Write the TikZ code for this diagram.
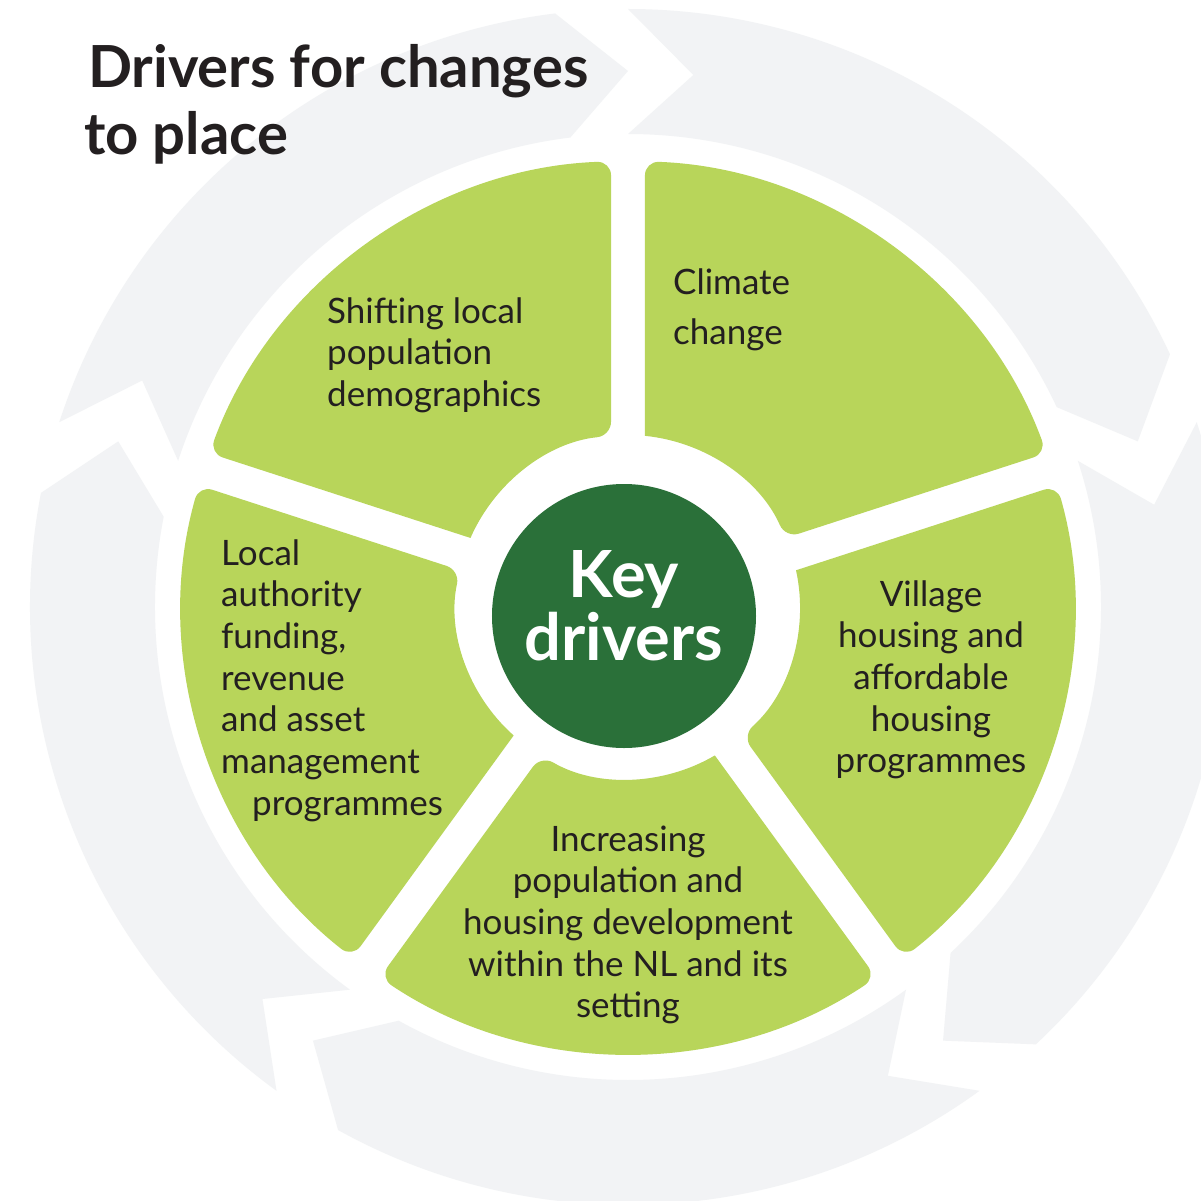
\documentclass[tikz,border=0pt]{standalone}
\usepackage{fontspec}
\setmainfont{Lato}
\usepackage{tikz}
\usetikzlibrary{positioning}
\definecolor{ringGrey}{HTML}{F2F3F5}
\definecolor{leafGreen}{HTML}{B8D55A}
\definecolor{deepGreen}{HTML}{2A7039}
\definecolor{inkBlack}{HTML}{231F20}

\begin{document}
\begin{tikzpicture}[x=1pt, y=1pt,
    sector/.style={fill=leafGreen},
    drivertext/.style={inner sep=0pt, text=inkBlack, font=\fontsize{35}{41.7}\selectfont},
    keytext/.style={inner sep=0pt, text=white, align=center, font=\fontsize{65}{63}\selectfont\bfseries}]
    \clip (-628,-593) rectangle (573,607);
    \fill[white] (-628,-593) rectangle (573,607);

    % Grey cycle arrows
    \foreach \g in {90,18,-54,-126,-198}{
        \pgfmathsetmacro\e{\g-72}
        \pgfmathsetmacro\eh{\g-65}
        \pgfmathsetmacro\gn{\g-7}
        \fill[ringGrey] (\g:598) arc[start angle=\g, end angle=\eh, radius=598]
            -- (\e:536) -- (\eh:473) arc[start angle=\eh, end angle=\g, radius=473]
            -- (\gn:536) -- cycle;
    }

    % Green sectors
    \foreach \a in {90,18,-54,-126,-198}{
        \pgfmathsetmacro\ai{\a-5.67}
        \pgfmathsetmacro\ao{\a-2.18}
        \pgfmathsetmacro\bo{\a-72+2.18}
        \pgfmathsetmacro\bi{\a-72+5.67}
        \fill[sector] (\ai:172) [rounded corners=14pt] -- (\ao:446)
            arc[start angle=\ao, end angle=\bo, radius=446] -- (\bi:172) [sharp corners]
            arc[start angle=\bi, end angle=\ai, radius=172] -- cycle;
    }

    % bits of green at the lower edge
    \fill[leafGreen] (-141,-600) circle (6);
    \fill[leafGreen] (117,-600) circle (6);

    % Centre
    \fill[deepGreen] (-4,-9) circle (132);
    \node[keytext, anchor=base] (keydrivers) at (-4,-53) {Key\\drivers};

    % Title
    \node[inner sep=0pt, anchor=base west, align=left, text=inkBlack,
        font=\fontsize{58}{67}\selectfont\bfseries] (title) at (-540,452)
        {Drivers for changes\\\hspace*{-4pt}to place};

    % Labels
    \node[drivertext, anchor=base west, align=left] (shifting) at (-301,200.6)
        {Shifting local\\population\\demographics};
    \node[drivertext, anchor=base west, align=left, font=\fontsize{35}{49}\selectfont] (climate) at (45,263)
        {Climate\\change};
    \node[drivertext, anchor=base, align=center] (village) at (303,-165.8)
        {Village\\housing and\\affordable\\housing\\programmes};
    \node[drivertext, anchor=base, align=center] (increasing) at (0,-410.8)
        {Increasing\\population and\\housing development\\within the NL and its\\setting};
    \node[drivertext, anchor=base west, align=left] (localauth) at (-407,-208.2)
        {Local\\authority\\funding,\\revenue\\and asset\\management\\\hspace*{31pt}programmes};
\end{tikzpicture}
\end{document}
